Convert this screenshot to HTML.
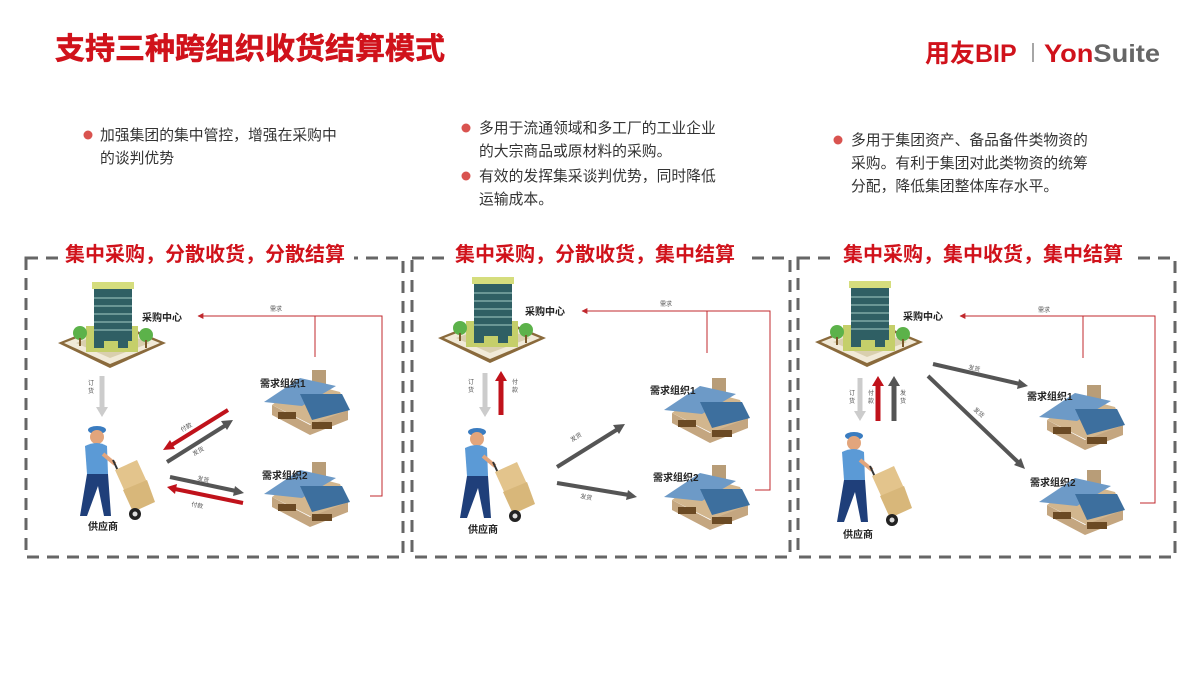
<!DOCTYPE html>
<html><head><meta charset="utf-8"><style>
body{margin:0;width:1200px;height:675px;overflow:hidden;background:#fff;font-family:"Liberation Sans","Noto Sans CJK SC",sans-serif}
svg{display:block}
</style></head><body>
<svg width="1200" height="675" viewBox="0 0 1200 675" xmlns="http://www.w3.org/2000/svg" font-family="Liberation Sans, Noto Sans CJK SC, sans-serif">
<defs>
<g id="bld">
<polygon points="0,55 55,33 108,55 52,80" fill="#8a6a3c"/>
<polygon points="6,55 55,36 102,55 52,76" fill="#f1ead8"/>
<polygon points="18,55 55,41 92,55 52,70" fill="#d9cfae"/>
<rect x="28" y="38" width="52" height="26" fill="#c5cf6a"/>
<rect x="36" y="0" width="38" height="53" fill="#2f5f64"/>
<g stroke="#7fa9a5" stroke-width="1.5"><line x1="36" y1="10" x2="74" y2="10"/><line x1="36" y1="18" x2="74" y2="18"/><line x1="36" y1="26" x2="74" y2="26"/><line x1="36" y1="34" x2="74" y2="34"/><line x1="36" y1="42" x2="74" y2="42"/></g>
<rect x="34" y="-6" width="42" height="7" fill="#d5dd7d"/>
<rect x="36" y="48" width="10" height="12" fill="#2f5f64"/><rect x="60" y="48" width="10" height="12" fill="#2f5f64"/>
<circle cx="22" cy="45" r="7" fill="#5cb24a"/><rect x="21" y="50" width="2" height="8" fill="#7a5a2a"/>
<circle cx="88" cy="47" r="7" fill="#5cb24a"/><rect x="87" y="52" width="2" height="8" fill="#7a5a2a"/>
</g>
<g id="house">
<rect x="50" y="0" width="14" height="14" fill="#b89d78"/>
<polygon points="10,35 40,12 78,22 86,40 50,55" fill="#d2b68e"/>
<polygon points="10,35 48,55 86,40 86,50 48,65 10,45" fill="#c4a680"/>
<rect x="16" y="42" width="18" height="7" fill="#6b4a24"/><rect x="50" y="52" width="20" height="7" fill="#6b4a24"/>
<polygon points="2,32 38,8 74,16 40,36" fill="#6d9ac7"/>
<polygon points="38,24 80,24 88,40 50,50" fill="#3d6f9e"/>
</g>
<g id="man">
<ellipse cx="22" cy="6" rx="9" ry="4" fill="#3a7cc0"/>
<circle cx="22" cy="13" r="7" fill="#e2a57c"/>
<path d="M10 22 Q22 16 32 22 L33 50 L12 50 Z" fill="#5b9ad6"/>
<path d="M12 50 L33 50 L36 92 L29 92 L23 62 L12 92 L5 92 Z" fill="#1f3f7a"/>
<line x1="28" y1="30" x2="40" y2="40" stroke="#e2a57c" stroke-width="4"/>
<line x1="38" y1="36" x2="62" y2="88" stroke="#333" stroke-width="2"/>
<polygon points="40,46 62,36 72,58 50,68" fill="#e3c48c"/>
<polygon points="48,66 72,56 80,78 58,88" fill="#d8b77a"/>
<circle cx="60" cy="90" r="6" fill="#222"/><circle cx="60" cy="90" r="2.5" fill="#ddd"/>
</g>
<marker id="ar" viewBox="0 0 10 10" refX="9" refY="5" markerWidth="6" markerHeight="6" orient="auto"><path d="M0 0 L10 5 L0 10 Z" fill="#c0282d"/></marker>
</defs>

<!-- header -->
<text x="55" y="59" font-size="30" font-weight="bold" fill="#d0121b" stroke="#d0121b" stroke-width="0.6">支持三种跨组织收货结算模式</text>
<text x="925" y="62" font-size="25" font-weight="bold" fill="#d0121b">用友BIP</text>
<line x1="1033" y1="43" x2="1033" y2="62" stroke="#888" stroke-width="1.5"/>
<text x="1044" y="62" font-size="25" font-weight="bold" fill="#d0121b" textLength="116" lengthAdjust="spacingAndGlyphs">Yon<tspan fill="#666">Suite</tspan></text>

<!-- bullets -->
<g font-size="14.8" fill="#333">
<circle cx="88" cy="135" r="4.5" fill="#d9534f"/>
<text x="100" y="140">加强集团的集中管控，增强在采购中</text>
<text x="100" y="163">的谈判优势</text>
<circle cx="466" cy="128" r="4.5" fill="#d9534f"/>
<text x="479" y="133">多用于流通领域和多工厂的工业企业</text>
<text x="479" y="156">的大宗商品或原材料的采购。</text>
<circle cx="466" cy="176" r="4.5" fill="#d9534f"/>
<text x="479" y="181">有效的发挥集采谈判优势，同时降低</text>
<text x="479" y="204">运输成本。</text>
<circle cx="838" cy="140" r="4.5" fill="#d9534f"/>
<text x="851" y="145">多用于集团资产、备品备件类物资的</text>
<text x="851" y="168">采购。有利于集团对此类物资的统筹</text>
<text x="851" y="191">分配，降低集团整体库存水平。</text>
</g>

<!-- panels -->
<g fill="none" stroke="#666" stroke-width="3" stroke-dasharray="12,8">
<rect x="26" y="258" width="377" height="299"/>
<rect x="412" y="258" width="378" height="299"/>
<rect x="798" y="258" width="377" height="299"/>
</g>
<g font-size="20" font-weight="bold" fill="#d0121b" text-anchor="middle">
<rect x="58" y="240" width="296" height="28" fill="#fff"/>
<text x="205" y="261">集中采购，分散收货，分散结算</text>
<rect x="446" y="240" width="298" height="28" fill="#fff"/>
<text x="595" y="261">集中采购，分散收货，集中结算</text>
<rect x="834" y="240" width="298" height="28" fill="#fff"/>
<text x="983" y="261">集中采购，集中收货，集中结算</text>
</g>

<!-- panel 1 -->
<use href="#bld" x="58" y="288"/>
<use href="#man" x="75" y="424"/>
<use href="#house" x="262" y="370"/>
<use href="#house" x="262" y="462"/>
<g font-size="10" font-weight="bold" fill="#222">
<text x="142" y="321">采购中心</text><text x="260" y="387">需求组织1</text><text x="262" y="479">需求组织2</text><text x="88" y="530">供应商</text>
</g>
<line x1="102" y1="376" x2="102" y2="408" stroke="#ccc" stroke-width="5"/><polygon points="96,407 108,407 102,417" fill="#ccc"/>
<polyline points="315,357 315,316" fill="none" stroke="#c0282d" stroke-width="1"/>
<polyline points="370,496 382,496 382,316 198,316" fill="none" stroke="#c0282d" stroke-width="1" marker-end="url(#ar)"/>
<line x1="228" y1="410" x2="170" y2="446" stroke="#c0121b" stroke-width="4"/><polygon points="163,450 170,440 175,449" fill="#c0121b"/>
<line x1="167" y1="462" x2="226" y2="425" stroke="#555" stroke-width="4"/><polygon points="233,420 221,421 227,430" fill="#555"/>
<line x1="170" y1="477" x2="236" y2="491" stroke="#555" stroke-width="4"/><polygon points="244,493 235,486 233,496" fill="#555"/>
<line x1="243" y1="503" x2="175" y2="489" stroke="#c0121b" stroke-width="4"/><polygon points="167,487 177,484 175,494" fill="#c0121b"/>

<!-- panel 2 -->
<use href="#bld" x="438" y="283"/>
<use href="#man" x="455" y="426"/>
<use href="#house" x="662" y="378"/>
<use href="#house" x="662" y="465"/>
<g font-size="10" font-weight="bold" fill="#222">
<text x="525" y="315">采购中心</text><text x="650" y="394">需求组织1</text><text x="653" y="481">需求组织2</text><text x="468" y="533">供应商</text>
</g>
<line x1="485" y1="373" x2="485" y2="408" stroke="#ccc" stroke-width="5"/><polygon points="479,407 491,407 485,417" fill="#ccc"/>
<line x1="501" y1="415" x2="501" y2="380" stroke="#c0121b" stroke-width="5"/><polygon points="495,381 507,381 501,371" fill="#c0121b"/>
<polyline points="707,353 707,311" fill="none" stroke="#c0282d" stroke-width="1"/>
<polyline points="755,490 770,490 770,311 582,311" fill="none" stroke="#c0282d" stroke-width="1" marker-end="url(#ar)"/>
<line x1="557" y1="467" x2="618" y2="429" stroke="#555" stroke-width="4"/><polygon points="625,424 613,425 619,434" fill="#555"/>
<line x1="557" y1="483" x2="629" y2="495" stroke="#555" stroke-width="4"/><polygon points="637,497 628,490 626,500" fill="#555"/>

<!-- panel 3 -->
<use href="#bld" x="815" y="287"/>
<use href="#man" x="832" y="430"/>
<use href="#house" x="1037" y="385"/>
<use href="#house" x="1037" y="470"/>
<g font-size="10" font-weight="bold" fill="#222">
<text x="903" y="320">采购中心</text><text x="1027" y="400">需求组织1</text><text x="1030" y="486">需求组织2</text><text x="843" y="538">供应商</text>
</g>
<line x1="860" y1="378" x2="860" y2="412" stroke="#ccc" stroke-width="5"/><polygon points="854,411 866,411 860,421" fill="#ccc"/>
<line x1="878" y1="421" x2="878" y2="385" stroke="#c0121b" stroke-width="5"/><polygon points="872,386 884,386 878,376" fill="#c0121b"/>
<line x1="894" y1="421" x2="894" y2="385" stroke="#555" stroke-width="5"/><polygon points="888,386 900,386 894,376" fill="#555"/>
<polyline points="1083,358 1083,316" fill="none" stroke="#c0282d" stroke-width="1"/>
<polyline points="1140,503 1155,503 1155,316 960,316" fill="none" stroke="#c0282d" stroke-width="1" marker-end="url(#ar)"/>
<line x1="933" y1="364" x2="1020" y2="384" stroke="#555" stroke-width="4"/><polygon points="1028,386 1019,379 1017,389" fill="#555"/>
<line x1="928" y1="376" x2="1019" y2="463" stroke="#555" stroke-width="4"/><polygon points="1025,469 1021,458 1014,465" fill="#555"/>

<!-- small labels -->
<g font-size="6" fill="#555">
<text x="270" y="311">需求</text><text x="660" y="306">需求</text><text x="1038" y="312">需求</text>
<text x="88" y="385">订</text><text x="88" y="393">货</text>
<text x="468" y="384">订</text><text x="468" y="392">货</text>
<text x="512" y="384">付</text><text x="512" y="392">款</text>
<text x="849" y="395">订</text><text x="849" y="403">货</text>
<text x="868" y="395">付</text><text x="868" y="403">款</text>
<text x="900" y="395">发</text><text x="900" y="403">货</text>
<text x="182" y="432" transform="rotate(-30 182 432)">付款</text>
<text x="194" y="456" transform="rotate(-30 194 456)">发货</text>
<text x="197" y="480" transform="rotate(12 197 480)">发货</text>
<text x="191" y="506" transform="rotate(12 191 506)">付款</text>
<text x="572" y="442" transform="rotate(-32 572 442)">发货</text>
<text x="580" y="498" transform="rotate(10 580 498)">发货</text>
<text x="968" y="369" transform="rotate(12 968 369)">发货</text>
<text x="973" y="410" transform="rotate(42 973 410)">发货</text>
</g>
</svg>
</body></html>
